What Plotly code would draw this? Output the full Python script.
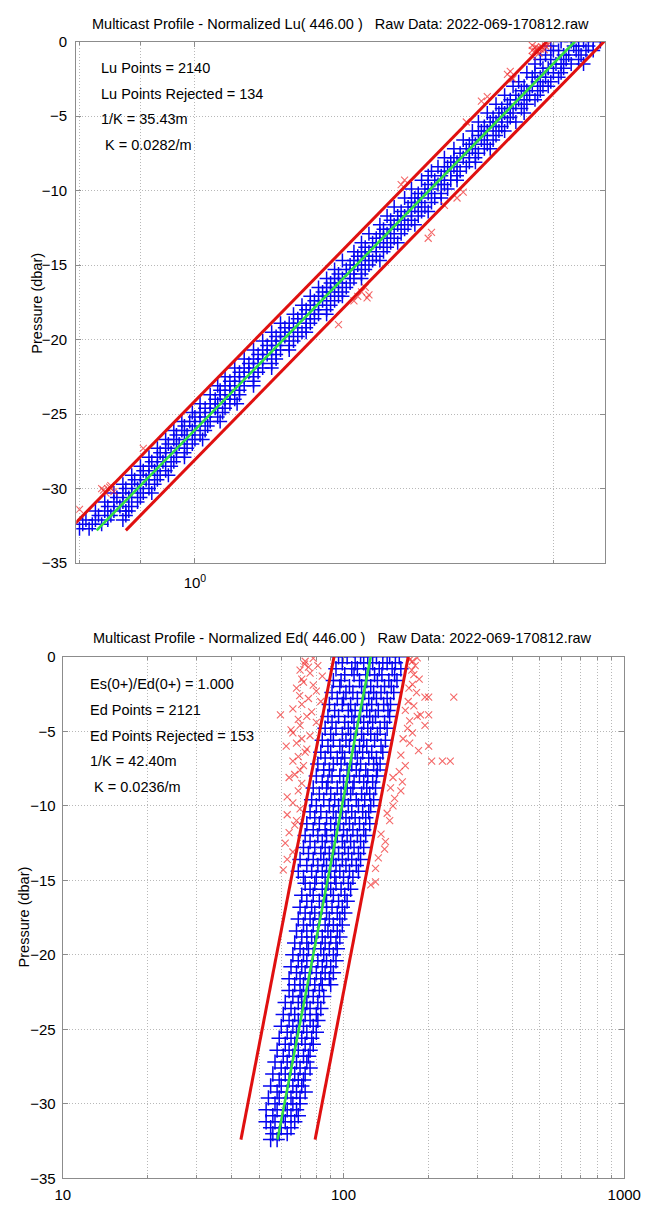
import math
import plotly.graph_objects as go

# ---------------- data : top panel (normalized Lu) ----------------
lu_rows_p = [0.0, -0.3, -0.6, -0.9, -1.2, -1.5, -1.8, -2.1, -2.4, -2.7, -3.0, -3.3, -3.6, -3.9,
             -4.2, -4.5, -4.8, -5.1, -5.4, -5.7, -6.0, -6.3, -6.6, -6.9, -7.2, -7.5, -7.8, -8.1,
             -8.4, -8.7, -9.0, -9.3, -9.6, -9.9, -10.2, -10.5, -10.8, -11.1, -11.4, -11.7, -12.0,
             -12.3, -12.6, -12.9, -13.2, -13.5, -13.8, -14.1, -14.4, -14.7, -15.0, -15.3, -15.6,
             -15.9, -16.2, -16.5, -16.8, -17.1, -17.4, -17.7, -18.0, -18.3, -18.6, -18.9, -19.2,
             -19.5, -19.8, -20.1, -20.4, -20.7, -21.0, -21.3, -21.6, -21.9, -22.2, -22.5, -22.8,
             -23.1, -23.4, -23.7, -24.0, -24.3, -24.6, -24.9, -25.2, -25.5, -25.8, -26.1, -26.4,
             -26.7, -27.0, -27.3, -27.6, -27.9, -28.2, -28.5, -28.8, -29.1, -29.4, -29.7, -30.0,
             -30.3, -30.6, -30.9, -31.2, -31.5, -31.8, -32.1, -32.4, -32.7]
lu_rows_v = [
    [2.03, 2.07, 2.12, 2.16, 2.19], [1.99, 2.08, 2.10, 2.14], [2.00, 2.02, 2.09, 2.13, 2.16],
    [1.97, 2.04, 2.06, 2.11], [1.95, 1.99, 2.05, 2.10], [1.93, 2.01, 2.03, 2.07, 2.12],
    [1.96, 1.98, 2.04], [1.90, 1.93, 2.00, 2.03], [1.92, 1.95, 1.97, 2.02],
    [1.87, 1.94, 1.99], [1.85, 1.89, 1.92, 1.96, 1.98], [1.88, 1.90, 1.95],
    [1.82, 1.86, 1.91, 1.94], [1.84, 1.87, 1.89, 1.93], [1.79, 1.83, 1.86, 1.90],
    [1.81, 1.84, 1.88], [1.76, 1.80, 1.82, 1.85, 1.89], [1.78, 1.81, 1.84],
    [1.73, 1.77, 1.79, 1.83, 1.86], [1.75, 1.78, 1.81], [1.71, 1.74, 1.76, 1.80, 1.82],
    [1.73, 1.75, 1.79], [1.68, 1.71, 1.74, 1.78], [1.70, 1.72, 1.76],
    [1.65, 1.69, 1.71, 1.75, 1.77], [1.67, 1.70, 1.73], [1.62, 1.65, 1.68, 1.72],
    [1.64, 1.66, 1.70, 1.72], [1.60, 1.63, 1.65, 1.69], [1.58, 1.62, 1.64, 1.67],
    [1.57, 1.61, 1.66], [1.55, 1.59, 1.61, 1.64, 1.66], [1.57, 1.60, 1.62],
    [1.52, 1.56, 1.58, 1.63], [1.54, 1.57, 1.61], [1.50, 1.53, 1.55, 1.59, 1.61],
    [1.52, 1.54, 1.58], [1.47, 1.51, 1.53, 1.56], [1.49, 1.52, 1.55, 1.57],
    [1.45, 1.48, 1.50, 1.54], [1.46, 1.49, 1.52], [1.43, 1.47, 1.48, 1.51, 1.53],
    [1.44, 1.46, 1.50], [1.40, 1.43, 1.45, 1.49], [1.42, 1.44, 1.47],
    [1.38, 1.41, 1.43, 1.46, 1.48], [1.39, 1.42, 1.45], [1.36, 1.38, 1.40, 1.44],
    [1.37, 1.39, 1.42], [1.33, 1.36, 1.38, 1.41, 1.43], [1.35, 1.37, 1.40],
    [1.31, 1.34, 1.36, 1.39], [1.32, 1.35, 1.38], [1.29, 1.31, 1.33, 1.36, 1.38],
    [1.30, 1.32, 1.35], [1.27, 1.29, 1.31, 1.34], [1.28, 1.30, 1.33],
    [1.25, 1.27, 1.29, 1.32, 1.33], [1.26, 1.28, 1.31], [1.23, 1.25, 1.27, 1.30],
    [1.24, 1.26, 1.29], [1.21, 1.23, 1.25, 1.27, 1.29], [1.22, 1.24, 1.26],
    [1.18, 1.20, 1.22, 1.25], [1.19, 1.21, 1.24], [1.16, 1.18, 1.20, 1.23, 1.24],
    [1.17, 1.19, 1.22], [1.14, 1.16, 1.18, 1.21], [1.15, 1.17, 1.20],
    [1.12, 1.14, 1.16, 1.18, 1.20], [1.13, 1.15, 1.17], [1.10, 1.12, 1.14, 1.17],
    [1.11, 1.13, 1.16], [1.08, 1.10, 1.12, 1.14, 1.16], [1.09, 1.11, 1.13],
    [1.06, 1.08, 1.10, 1.12], [1.07, 1.09, 1.12], [1.045, 1.06, 1.08, 1.10, 1.12],
    [1.05, 1.07, 1.09], [1.03, 1.05, 1.07, 1.09], [1.04, 1.06, 1.08],
    [1.01, 1.03, 1.045, 1.07, 1.085], [1.02, 1.04, 1.06], [0.995, 1.01, 1.03, 1.055],
    [1.00, 1.02, 1.045], [0.975, 0.99, 1.01, 1.03, 1.05], [0.98, 1.00, 1.025],
    [0.96, 0.975, 0.995, 1.02], [0.965, 0.985, 1.01], [0.945, 0.96, 0.98, 1.00, 1.015],
    [0.95, 0.97, 0.995], [0.93, 0.945, 0.965, 0.985], [0.935, 0.955, 0.98],
    [0.915, 0.93, 0.945, 0.965, 0.98], [0.92, 0.94, 0.96], [0.90, 0.915, 0.93, 0.955],
    [0.905, 0.925, 0.945], [0.885, 0.90, 0.915, 0.935, 0.95], [0.89, 0.91, 0.93],
    [0.87, 0.885, 0.90, 0.925], [0.875, 0.895, 0.915], [0.855, 0.87, 0.885, 0.905, 0.92],
    [0.86, 0.88, 0.90], [0.84, 0.855, 0.87, 0.895], [0.845, 0.865, 0.885],
    [0.825, 0.84, 0.855, 0.875, 0.88], [0.83, 0.85, 0.875], [0.81, 0.825, 0.845, 0.87],
    [0.805, 0.82, 0.835], [0.80, 0.815]]

lu_rej_p = [-0.2, -0.25, -0.3, -0.35, -0.4, -0.45, -0.5, -0.55, -0.6, -0.65, -0.7, -0.8,
            -1.0, -2.0, -2.2, -2.5, -3.7, -4.0, -5.4,
            -9.3, -9.6, -10.1, -10.5, -11.0, -12.8, -13.2, -16.5, -16.8, -17.0, -17.1,
            -17.4, -17.2, -19.0, -27.3, -29.8, -29.9, -30.0, -30.1, -30.2, -30.3, -30.0, -31.4]
lu_rej_v = [1.98, 1.92, 1.97, 1.955, 1.93, 1.94, 1.95, 1.965, 1.92, 1.93, 1.94, 1.945,
            1.92, 1.84, 1.83, 1.85, 1.76, 1.74, 1.69,
            1.50, 1.49, 1.68, 1.66, 1.62, 1.58, 1.57, 1.39, 1.38, 1.40, 1.37,
            1.36, 1.395, 1.32, 0.905, 0.85, 0.848, 0.845, 0.838, 0.855, 0.842, 0.835, 0.80]

lu_line_p = [0.0, -32.8]
lu_fit = [2.085, 0.827]
lu_low = [1.975, 0.783]
lu_high = [2.206, 0.875]

# ---------------- data : bottom panel (normalized Ed) ----------------
ed_rows_p = [0.0, -0.4, -0.8, -1.2, -1.6, -2.0, -2.4, -2.8, -3.2, -3.6, -4.0, -4.4, -4.8, -5.2,
             -5.6, -6.0, -6.4, -6.8, -7.2, -7.6, -8.0, -8.4, -8.8, -9.2, -9.6, -10.0, -10.4,
             -10.8, -11.2, -11.6, -12.0, -12.4, -12.8, -13.2, -13.6, -14.0, -14.4, -14.8,
             -15.2, -15.6, -16.0, -16.4, -16.8, -17.2, -17.6, -18.0, -18.4, -18.8, -19.2,
             -19.6, -20.0, -20.4, -20.8, -21.2, -21.6, -22.0, -22.4, -22.8, -23.2, -23.6,
             -24.0, -24.4, -24.8, -25.2, -25.6, -26.0, -26.4, -26.8, -27.2, -27.6, -28.0,
             -28.4, -28.8, -29.2, -29.6, -30.0, -30.4, -30.8, -31.2, -31.6, -32.0, -32.4]
ed_rows_v = [
    [96, 103, 115, 122, 131, 146, 158], [99, 110, 118, 127, 138, 143, 153],
    [94, 107, 112, 124, 134, 149, 160], [101, 109, 120, 129, 137, 152],
    [92, 98, 114, 121, 132, 145, 155], [97, 105, 116, 125, 140, 148],
    [91, 102, 108, 119, 128, 136, 151], [95, 100, 112, 123, 131, 143],
    [89, 99, 106, 117, 126, 139, 147], [93, 104, 110, 121, 133, 144],
    [88, 96, 107, 115, 124, 130, 146], [91, 101, 109, 118, 127, 140],
    [86, 94, 104, 112, 122, 135, 143], [90, 99, 106, 116, 125, 132],
    [84, 92, 102, 109, 118, 129, 141], [88, 97, 105, 114, 121, 136],
    [83, 90, 99, 110, 117, 126, 138], [86, 95, 101, 112, 123, 131],
    [81, 92, 98, 107, 115, 128, 135], [85, 89, 103, 111, 120, 132],
    [80, 91, 97, 105, 114, 122, 131], [84, 88, 100, 109, 118, 127],
    [78, 87, 95, 103, 108, 121, 130], [82, 90, 98, 106, 116, 124],
    [77, 85, 93, 101, 111, 119, 128], [80, 89, 96, 104, 113, 125],
    [76, 83, 92, 99, 107, 117, 123], [79, 87, 94, 102, 110, 120],
    [74, 82, 90, 97, 105, 114, 124], [78, 86, 93, 100, 108, 118],
    [73, 81, 87, 95, 103, 112, 120], [76, 84, 91, 99, 106, 115],
    [72, 79, 86, 93, 101, 109, 118], [75, 83, 89, 96, 104, 113],
    [70, 78, 85, 92, 99, 107, 115], [74, 81, 87, 94, 102, 111],
    [69, 77, 84, 90, 97, 105, 113], [72, 80, 86, 93, 100, 108],
    [73, 79, 88, 94, 104], [76, 84, 90, 98, 106], [71, 78, 86, 92, 101], [74, 82, 87, 96, 103],
    [70, 77, 84, 91, 99], [73, 79, 87, 95, 101], [69, 76, 82, 89, 97], [72, 78, 86, 92, 99],
    [68, 74, 81, 88, 95], [71, 77, 84, 90, 97], [67, 74, 79, 86, 94], [70, 75, 83, 89, 95],
    [66, 72, 78, 85, 92], [69, 74, 81, 87, 94], [65, 71, 77, 84, 90], [68, 73, 80, 86, 92],
    [64, 70, 76, 83, 89], [67, 72, 79, 84, 90],
    [64, 70, 75, 82], [66, 71, 78, 85], [62, 69, 74, 81], [65, 71, 76, 83], [61, 67, 73, 80],
    [64, 69, 76, 81], [60, 66, 72, 78], [63, 68, 74, 80], [59, 65, 71, 77], [62, 67, 73, 78],
    [58, 64, 69, 76], [61, 66, 72, 75], [57, 63, 68, 74], [60, 65, 70, 76], [56, 62, 67, 73],
    [59, 64, 69, 72], [55, 60, 66, 71], [58, 63, 68, 73], [54, 59, 65, 70], [57, 62, 66, 70],
    [53, 58, 63, 68], [56, 61, 65, 69], [53, 57, 62, 67], [55, 60, 65], [56, 59, 63], [55, 58]]

ed_rej_p = [-0.1, -0.3, -0.5, -0.6, -0.7, -0.9, -1.1, -1.3, -1.5, -1.7, -1.9, -2.1, -2.3,
            -2.6, -2.8, -3.0, -3.2, -3.5, -3.7, -3.9, -4.0, -4.2, -4.4, -4.6, -4.9, -5.1,
            -5.3, -5.5, -5.8, -6.0, -6.2, -6.4, -6.7, -7.0, -7.3, -7.6, -7.9, -8.1, -8.5,
            -9.0, -9.4, -9.8, -10.2, -10.6, -11.0, -11.3, -11.8, -12.5, -13.1, -13.6, -14.3,
            -0.07, -0.2, -0.3, -0.6, -0.9, -1.2, -1.5, -1.85, -2.1, -2.4, -2.7, -2.7, -2.7,
            -3.0, -3.3, -3.6, -3.9, -3.9, -4.0, -4.3, -4.6, -4.8, -5.1, -5.5, -5.8, -6.0,
            -6.3, -6.6, -7.0, -7.0, -7.0, -7.3, -7.7, -8.1, -8.4, -8.8, -9.0, -9.5, -10.0,
            -10.5, -11.0, -11.9, -12.4, -12.9, -13.5, -14.2, -15.1, -15.3]
ed_rej_v = [78, 73, 72.6, 81, 75, 70, 76, 84, 71, 72, 78, 68, 80,
            69.8, 75, 83, 71, 66, 77, 59.6, 74, 69, 80, 70, 65, 66,
            76, 71, 68, 62.5, 74, 73, 69, 66, 72, 70, 67, 64, 71,
            69, 63, 66, 70, 63, 68, 67, 64, 62, 66, 63, 61,
            183, 172, 176, 180, 175, 178, 186, 176, 171, 182, 195, 201, 247,
            170, 178, 166, 201, 188, 183, 172, 195, 169, 176, 163, 172, 201,
            185, 160, 206, 225, 240, 166, 158, 150, 162, 147, 160, 152, 150,
            143, 146, 136, 141, 140, 133, 130, 130, 125]

ed_line_p = [0.0, -32.4]
ed_fit = [125.0, 58.2]
ed_low = [92.5, 43.1]
ed_high = [170.0, 79.2]

y_ticks = [0, -5, -10, -15, -20, -25, -30, -35]
lu_xticks = [1.0]
lu_xtext = ["10<sup>0</sup>"]
lu_xminor = [0.8, 0.9, 2.0]
ed_xticks = [10, 100, 1000]
ed_xtext = ["10", "100", "1000"]
ed_xminor = [20, 30, 40, 50, 60, 70, 80, 90, 200, 300, 400, 500, 600, 700, 800, 900]

lu_notes = ["Lu Points = 2140", "Lu Points Rejected = 134", "1/K = 35.43m", " K = 0.0282/m"]
ed_notes = ["Es(0+)/Ed(0+) = 1.000", "Ed Points = 2121", "Ed Points Rejected = 153",
            "1/K = 42.40m", " K = 0.0236/m"]
lu_title = "Multicast Profile - Normalized Lu( 446.00 )   Raw Data: 2022-069-170812.raw"
ed_title = "Multicast Profile - Normalized Ed( 446.00 )   Raw Data: 2022-069-170812.raw"

# ---------------- figure ----------------
W, H = 648, 1211
FONT = "Liberation Sans, Arial, Helvetica, sans-serif"


def fx(px):
    return px / W


def fy(py):
    return 1 - py / H


def flatten(rows_p, rows_v):
    ps, vs = [], []
    for p, vals in zip(rows_p, rows_v):
        for v in vals:
            ps.append(p)
            vs.append(v)
    return ps, vs


fig = go.Figure()

BLUE_TOP = dict(symbol="cross-thin", size=10, line=dict(color="#0606f0", width=1.5))
BLUE_BOT = dict(symbol="cross-thin", size=11, line=dict(color="#0606f0", width=1.5))
RED = dict(symbol="x-thin", size=7, line=dict(color="rgba(240,40,40,0.7)", width=1.1))

panels = [
    ("x", "y", BLUE_TOP, lu_rows_p, lu_rows_v, lu_rej_p, lu_rej_v, lu_line_p, lu_fit, lu_low, lu_high),
    ("x2", "y2", BLUE_BOT, ed_rows_p, ed_rows_v, ed_rej_p, ed_rej_v, ed_line_p, ed_fit, ed_low, ed_high),
]
for xa, ya, bm, rp, rv, jp, jv, lp, fit, low, high in panels:
    bp, bv = flatten(rp, rv)
    fig.add_trace(go.Scatter(x=bv, y=bp, mode="markers", marker=bm, xaxis=xa, yaxis=ya,
                             showlegend=False, hoverinfo="skip"))
    fig.add_trace(go.Scatter(x=jv, y=jp, mode="markers", marker=RED, xaxis=xa, yaxis=ya,
                             showlegend=False, hoverinfo="skip"))
    for line_v in (low, high):
        fig.add_trace(go.Scatter(x=line_v, y=lp, mode="lines", line=dict(color="#e01010", width=3),
                                 xaxis=xa, yaxis=ya, showlegend=False, hoverinfo="skip"))
    fig.add_trace(go.Scatter(x=fit, y=lp, mode="lines", line=dict(color="#33dd44", width=2.6),
                             xaxis=xa, yaxis=ya, showlegend=False, hoverinfo="skip"))

GRID = dict(showgrid=True, gridcolor="#b8b8b8", griddash="1px,2px", gridwidth=1)
AX = dict(showline=True, linecolor="#8c8c8c", linewidth=1.3, mirror="ticks", ticks="inside",
          ticklen=5, tickcolor="#8c8c8c", zeroline=False,
          tickfont=dict(family=FONT, size=15, color="#000"), **GRID)

fig.update_layout(
    width=W, height=H, margin=dict(l=0, r=0, t=0, b=0),
    paper_bgcolor="white", plot_bgcolor="white", showlegend=False,
    xaxis=dict(AX, type="log", domain=[fx(71), fx(621)], anchor="y",
               range=[math.log10(0.795), math.log10(2.21)],
               tickmode="array", tickvals=lu_xticks, ticktext=lu_xtext, ticklabelstandoff=6,
               minor=dict(tickmode="array", tickvals=lu_xminor, ticks="inside", ticklen=3,
                          tickcolor="#8c8c8c", **GRID)),
    yaxis=dict(AX, domain=[fy(562), fy(33)], anchor="x", range=[-35, 0],
               tickvals=y_ticks, ticklabelstandoff=5),
    xaxis2=dict(AX, type="log", domain=[fx(57), fx(641)], anchor="y2", range=[1, 3],
                tickmode="array", tickvals=ed_xticks, ticktext=ed_xtext, ticklabelstandoff=2,
                ticklabeloverflow="allow",
                minor=dict(tickmode="array", tickvals=ed_xminor, ticks="inside", ticklen=3,
                           tickcolor="#8c8c8c", **GRID)),
    yaxis2=dict(AX, domain=[fy(1186), fy(657)], anchor="x2", range=[-35, 0],
                tickvals=y_ticks, ticklabelstandoff=3),
)

ann = []
ann.append(dict(text=lu_title, x=fx(346), y=fy(15), xref="paper", yref="paper",
                xanchor="center", yanchor="middle", showarrow=False,
                font=dict(family=FONT, size=14.5, color="#000")))
ann.append(dict(text=ed_title, x=fx(348), y=fy(638), xref="paper", yref="paper",
                xanchor="center", yanchor="middle", showarrow=False,
                font=dict(family=FONT, size=14.5, color="#000")))
for i, t in enumerate(lu_notes):
    ann.append(dict(text=t.replace(" ", "&nbsp;", 1) if t.startswith(" ") else t,
                    x=fx(95), y=fy(60 + 26 * i), xref="paper", yref="paper",
                    xanchor="left", yanchor="middle", showarrow=False,
                    font=dict(family=FONT, size=14.5, color="#000")))
for i, t in enumerate(ed_notes):
    ann.append(dict(text=t.replace(" ", "&nbsp;", 1) if t.startswith(" ") else t,
                    x=fx(83), y=fy(685 + 26 * i), xref="paper", yref="paper",
                    xanchor="left", yanchor="middle", showarrow=False,
                    font=dict(family=FONT, size=14.5, color="#000")))
ann.append(dict(text="Pressure (dbar)", x=fx(30), y=fy(298), xref="paper", yref="paper",
                xanchor="center", yanchor="middle", textangle=-90, showarrow=False,
                font=dict(family=FONT, size=14.5, color="#000")))
ann.append(dict(text="Pressure (dbar)", x=fx(17), y=fy(921), xref="paper", yref="paper",
                xanchor="center", yanchor="middle", textangle=-90, showarrow=False,
                font=dict(family=FONT, size=14.5, color="#000")))
fig.update_layout(annotations=ann)

fig.write_html("out.html",
               post_script="document.body.style.margin='0';document.body.style.padding='0';")
